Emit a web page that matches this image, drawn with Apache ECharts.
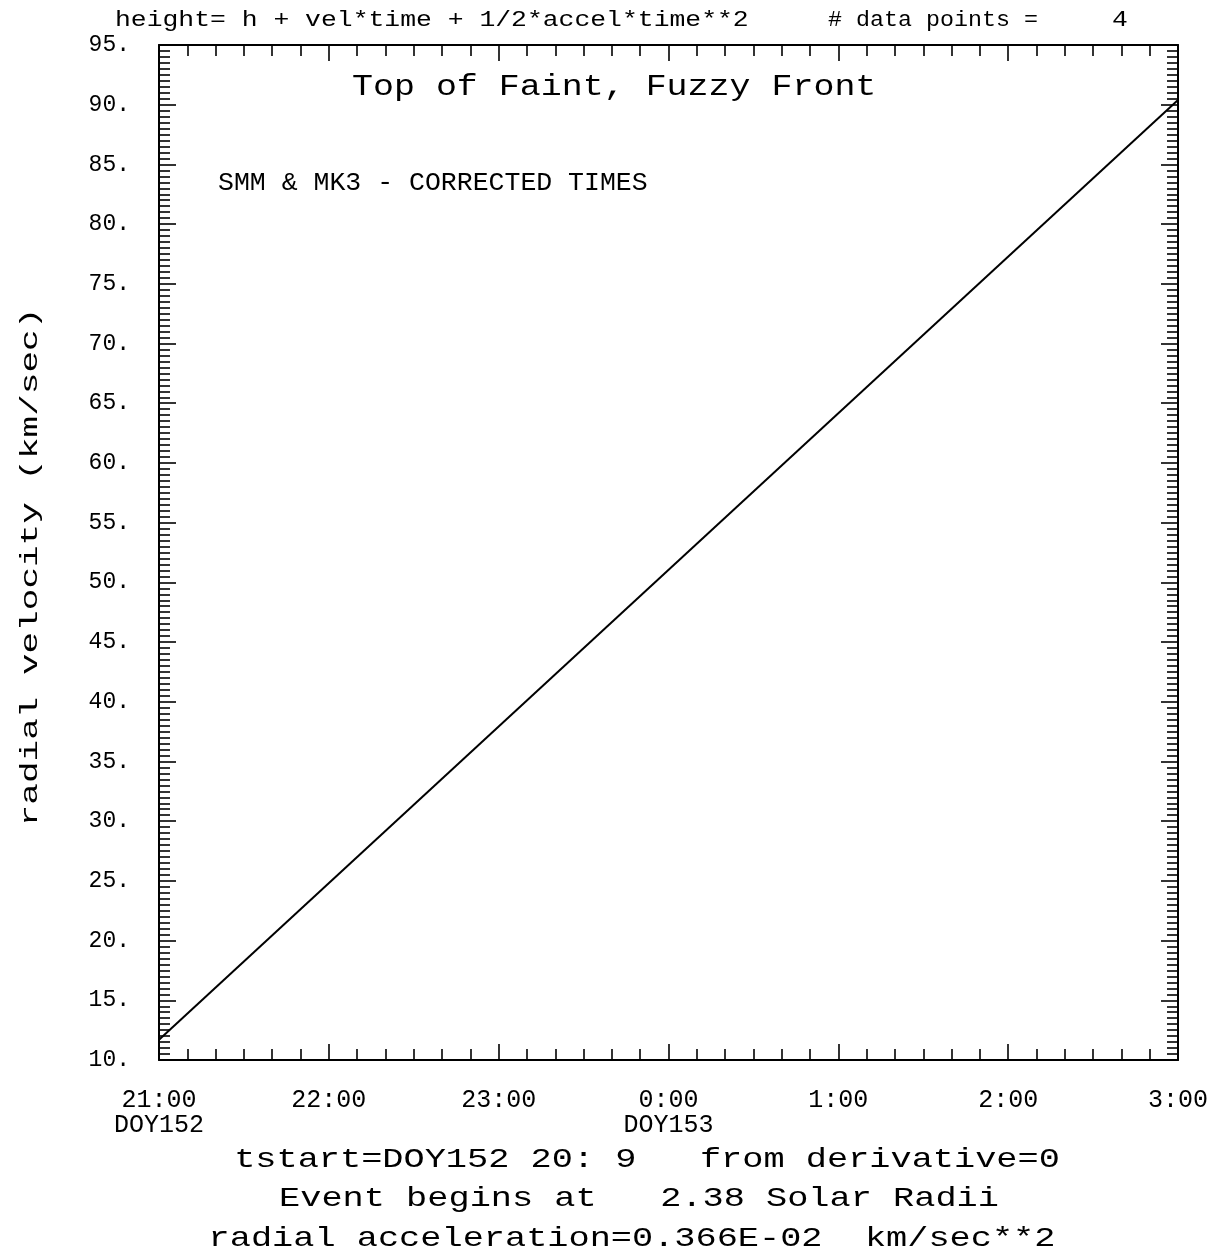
<!DOCTYPE html>
<html><head><meta charset="utf-8">
<script src="https://cdn.jsdelivr.net/npm/echarts@6/dist/echarts.min.js"></script>
<style>html,body{margin:0;padding:0;background:#fff}#c{width:1224px;height:1256px}</style>
</head><body><div id="c"></div>
<script>
// ---- data ----
const timeHours = [0, 6];            // hours after 21:00 DOY152
const velocity = [11.7, 90.4];       // radial velocity km/sec (fitted line)
const xTickLabels = ['21:00\nDOY152', '22:00', '23:00', '0:00\nDOY153', '1:00', '2:00', '3:00'];
const headerLeft = 'height= h + vel*time + 1/2*accel*time**2';
const headerMid = '# data points =';
const headerNum = '4';
const titleText = 'Top of Faint, Fuzzy Front';
const subtitleText = 'SMM & MK3 - CORRECTED TIMES';
const yName = 'radial velocity (km/sec)';
const footerLines = [
  'tstart=DOY152 20: 9   from derivative=0',
  'Event begins at   2.38 Solar Radii',
  'radial acceleration=0.366E-02  km/sec**2'
];

const FONT = '"Liberation Mono", "DejaVu Sans Mono", monospace';
const chart = echarts.init(document.getElementById('c'));

function xAx(pos, showLabel) {
  return {
    type: 'value', position: pos, min: 0, max: 6, interval: 1,
    axisLine: { show: true, onZero: false, lineStyle: { color: '#000', width: 2 } },
    axisTick: { show: true, inside: true, length: 16, lineStyle: { color: '#000', width: 1.6 } },
    minorTick: { show: true, splitNumber: 6, length: 11, lineStyle: { color: '#000', width: 1.6 } },
    splitLine: { show: false }, minorSplitLine: { show: false },
    axisLabel: {
      show: showLabel, margin: 28, color: '#000', fontFamily: FONT, fontSize: 25, lineHeight: 25,
      formatter: v => xTickLabels[Math.round(v)]
    }
  };
}
function yAx(pos, showLabel) {
  return {
    type: 'value', position: pos, min: 10, max: 95, interval: 5,
    axisLine: { show: true, onZero: false, lineStyle: { color: '#000', width: 2 } },
    axisTick: { show: true, inside: true, length: 17, lineStyle: { color: '#000', width: 1.6 } },
    minorTick: { show: true, splitNumber: 10, length: 11, lineStyle: { color: '#000', width: 1.6 } },
    splitLine: { show: false }, minorSplitLine: { show: false },
    axisLabel: {
      show: showLabel, margin: 29, color: '#000', fontFamily: FONT, fontSize: 23,
      formatter: v => v + '.'
    }
  };
}

const txt = (text, x, y, size, sx, align, extra) => Object.assign({
  type: 'text', x: x, y: y, scaleX: sx, silent: true,
  style: { text: text, fill: '#000', font: size + 'px ' + FONT, textAlign: align, textVerticalAlign: 'middle' }
}, extra || {});

chart.setOption({
  animation: false,
  backgroundColor: '#fff',
  grid: { left: 159, top: 45, width: 1019, height: 1015, containLabel: false },
  xAxis: [xAx('bottom', true), xAx('top', false)],
  yAxis: [yAx('left', true), yAx('right', false)],
  series: [{
    type: 'line', xAxisIndex: 0, yAxisIndex: 0, symbol: 'none', silent: true,
    lineStyle: { color: '#000', width: 2 },
    data: timeHours.map((t, i) => [t, velocity[i]])
  }],
  graphic: [
    txt(headerLeft, 115, 20, 22, 1.2, 'left'),
    txt(headerMid, 828, 20, 22, 1.06, 'left'),
    txt(headerNum, 1120, 20, 22, 1.2, 'center'),
    txt(titleText, 352, 87, 30, 1.165, 'left'),
    txt(subtitleText, 218, 183, 26, 1.02, 'left'),
    txt(footerLines[0], 647, 1160, 28, 1.26, 'center'),
    txt(footerLines[1], 639, 1199, 28, 1.26, 'center'),
    txt(footerLines[2], 632, 1239, 28, 1.26, 'center'),
    txt(yName, 31, 567, 24, 1.5, 'center', { rotation: Math.PI / 2 })
  ]
});
</script>
</body></html>
